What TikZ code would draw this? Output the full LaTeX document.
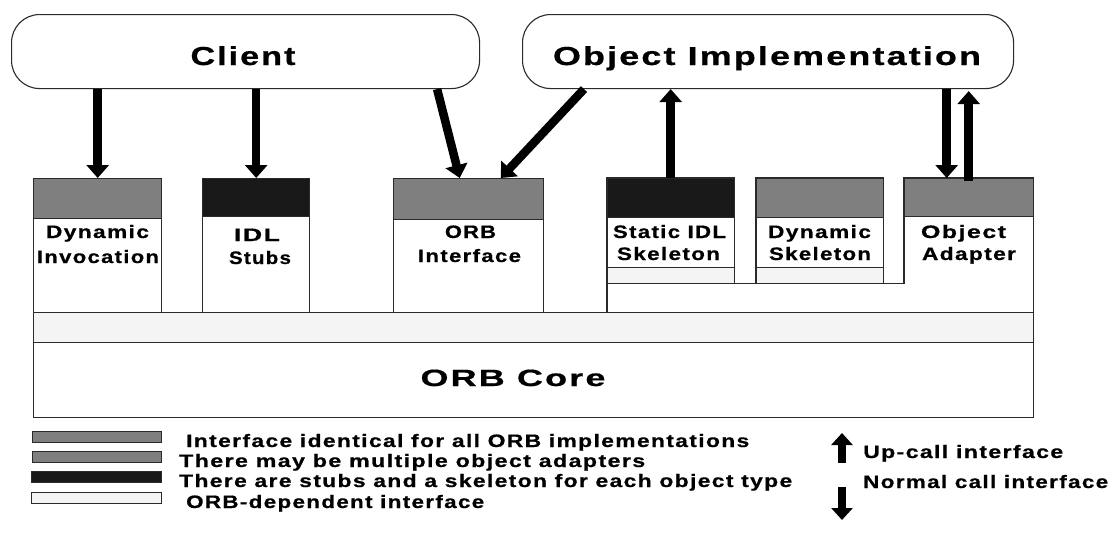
\documentclass[tikz,border=0pt]{standalone}
\usepackage{fontspec}
\usepackage{graphicx}
\setmainfont{Liberation Sans}
\newfontfamily\lblfont{Liberation Sans}[LetterSpace=6, BoldFeatures={FakeBold=0.6}]
\usetikzlibrary{arrows.meta,calc}

% stretch a label to a given width (in pt), keeping its height
\newcommand\fitw[2]{\resizebox{#1pt}{\height}{#2}}

\definecolor{midgray}{HTML}{7F7F7F}
\definecolor{darkband}{HTML}{191919}
\definecolor{lightband}{HTML}{F4F4F4}
\definecolor{linec}{HTML}{2A2A2A}

\tikzset{
  outl/.style={draw=linec, line width=1.4pt},
  cloudbox/.style={draw=linec, line width=1.1pt, fill=white, rectangle,
    rounded corners=28pt, inner sep=0pt, anchor=north west},
  blockbox/.style={outl, fill=white, rectangle, inner sep=0pt, anchor=north west},
  ghostbox/.style={rectangle, inner sep=0pt, anchor=north west},
  greyband/.style={blockbox, fill=midgray},
  blackband/.style={blockbox, fill=darkband},
  paleband/.style={blockbox, fill=lightband},
  titletext/.style={font=\lblfont\bfseries\fontsize{26}{30}\selectfont, inner sep=0pt, anchor=base},
  coretext/.style={font=\lblfont\bfseries\fontsize{23.5}{28}\selectfont, inner sep=0pt, anchor=base},
  lbl/.style={font=\lblfont\bfseries\fontsize{18}{20}\selectfont, inner sep=0pt, anchor=base},
  keytext/.style={font=\lblfont\bfseries\fontsize{18}{20}\selectfont, inner sep=0pt, anchor=base west},
  bigarrow/.style={draw=black, line width=8.5pt, -{Triangle[width=22pt,length=13pt]}},
  keyarrow/.style={draw=black, line width=8pt, -{Triangle[width=21pt,length=12pt]}},
}

\begin{document}
\begin{tikzpicture}[x=1pt, y=-1pt]
\useasboundingbox (0,0) rectangle (1120,541);
\fill[white] (0,0) rectangle (1120,541);

% --- the two application boxes
\node[cloudbox, minimum width=468pt, minimum height=74pt] (client) at (11,14) {};
\node[titletext] (client-t) at (243,65) {\fitw{105}{Client}};
\node[cloudbox, minimum width=491pt, minimum height=74pt] (objimpl) at (522,14) {};
\node[titletext] (objimpl-t) at (767,65) {\fitw{428}{Object Implementation}};

% --- ORB-dependent layer and ORB core
\node[paleband, minimum width=1000pt, minimum height=30pt] (orbdep) at (33,312) {};
\node[blockbox, minimum width=1000pt, minimum height=75pt] (core) at (33,342) {};
\node[coretext] (core-t) at (513,386) {\fitw{185}{ORB Core}};

% --- client-side blocks
\node[blockbox, minimum width=128pt, minimum height=134pt] (di) at (33,178) {};
\node[greyband, minimum width=128pt, minimum height=40pt] (di-band) at (33,178) {};
\node[lbl] (di-t1) at (97.5,238) {\fitw{103}{Dynamic}};
\node[lbl] (di-t2) at (98,263) {\fitw{122}{Invocation}};

\node[blockbox, minimum width=107pt, minimum height=134pt] (idl) at (202,178) {};
\node[blackband, minimum width=107pt, minimum height=38pt] (idl-band) at (202,178) {};
\node[lbl] (idl-t1) at (257,241) {\fitw{46}{IDL}};
\node[lbl] (idl-t2) at (260,264) {\fitw{62}{Stubs}};

\node[blockbox, minimum width=150pt, minimum height=134pt] (orbi) at (393,178) {};
\node[greyband, minimum width=150pt, minimum height=41pt] (orbi-band) at (393,178) {};
\node[lbl] (orbi-t1) at (470.5,238) {\fitw{51}{ORB}};
\node[lbl] (orbi-t2) at (469.5,262) {\fitw{103}{Interface}};

% --- server-side blocks sharing one base
\node[ghostbox, minimum width=127pt, minimum height=105pt] (sidl) at (607,178) {};
\node[ghostbox, minimum width=127pt, minimum height=105pt] (dskel) at (756,178) {};
\node[ghostbox, minimum width=129pt, minimum height=134pt] (oa) at (904,178) {};
\filldraw[outl, fill=white]
  (sidl.north west) -- (sidl.north east) -- (sidl.south east)
  -- (dskel.south west) -- (dskel.north west) -- (dskel.north east)
  -- (dskel.south east) -- (oa.west |- dskel.south) -- (oa.north west)
  -- (oa.north east) -- (oa.south east) -- (oa.south east -| sidl.west) -- cycle;

\node[blackband, minimum width=127pt, minimum height=39pt] (sidl-band) at (607,178) {};
\node[paleband, minimum width=127pt, minimum height=16pt] (sidl-pale) at (607,267) {};
\node[lbl] (sidl-t1) at (669.5,238) {\fitw{113}{Static IDL}};
\node[lbl] (sidl-t2) at (668.5,260) {\fitw{103}{Skeleton}};

\node[greyband, minimum width=127pt, minimum height=39pt] (dskel-band) at (756,178) {};
\node[paleband, minimum width=127pt, minimum height=16pt] (dskel-pale) at (756,267) {};
\node[lbl] (dskel-t1) at (819.5,238) {\fitw{103}{Dynamic}};
\node[lbl] (dskel-t2) at (820,260) {\fitw{102}{Skeleton}};

\node[greyband, minimum width=129pt, minimum height=38pt] (oa-band) at (904,178) {};
\node[lbl] (oa-t1) at (963.5,238) {\fitw{85}{Object}};
\node[lbl] (oa-t2) at (969,260) {\fitw{94}{Adapter}};

% --- calls between the applications and the ORB interfaces
\draw[bigarrow] (di.north |- client.south) -- (di.north);
\draw[bigarrow] (idl.north |- client.south) -- (idl.north);
\draw[bigarrow] ($(client.south east)+(-43,0)$) -- ($(orbi.north)+(-9,0)$);
\draw[bigarrow] ($(objimpl.south west)+(62,0)$) -- ($(orbi.north)+(32,0)$);
\draw[bigarrow] (sidl.north) -- (sidl.north |- objimpl.south);
\draw[bigarrow] ($(oa.north |- objimpl.south)+(-22,0)$) -- ($(oa.north)+(-22,0)$);
\draw[bigarrow] ($(oa.north)+(0,3)$) -- ($(oa.north |- objimpl.south)+(0,2)$);

% --- key
\node[greyband, minimum width=129pt, minimum height=11pt] (key1) at (32,431) {};
\node[keytext] (key1-t) at (186,447) {\fitw{563}{Interface identical for all ORB implementations}};
\node[greyband, minimum width=129pt, minimum height=11pt] (key2) at (32,451) {};
\node[keytext] (key2-t) at (179,467) {\fitw{466}{There may be multiple object adapters}};
\node[blackband, minimum width=130pt, minimum height=11pt] (key3) at (31,471) {};
\node[keytext] (key3-t) at (179,487) {\fitw{613}{There are stubs and a skeleton for each object type}};
\node[paleband, minimum width=130pt, minimum height=11pt] (key4) at (31,492) {};
\node[keytext] (key4-t) at (186,508) {\fitw{298}{ORB-dependent interface}};

\coordinate (up-from) at (842,463);
\coordinate (up-to) at (842,433);
\draw[keyarrow] (up-from) -- (up-to);
\node[keytext] (up-t) at (863,458) {\fitw{200}{Up-call interface}};
\coordinate (down-from) at (842,487);
\coordinate (down-to) at (842,520);
\draw[keyarrow] (down-from) -- (down-to);
\node[keytext] (down-t) at (863,488) {\fitw{245}{Normal call interface}};
\end{tikzpicture}
\end{document}
